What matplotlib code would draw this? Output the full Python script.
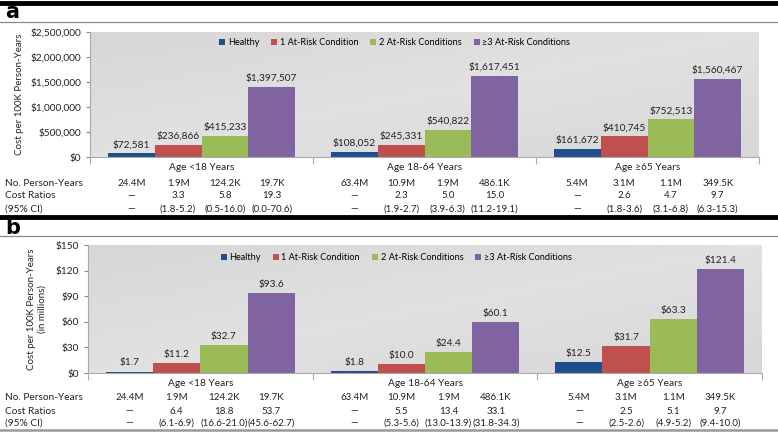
import matplotlib.pyplot as plt
import numpy as np
from matplotlib.lines import Line2D

plt.rcParams['font.family'] = ['Lato', 'DejaVu Sans']

# data
groups = ['Age <18 Years', 'Age 18-64 Years', 'Age \u226565 Years']
series = ['Healthy', '1 At-Risk Condition', '2 At-Risk Conditions', '\u22653 At-Risk Conditions']
colors = ['#1f4e8c', '#c0504d', '#9bbb59', '#8064a2']

cost_a_healthy = [72581, 108052, 161672]
cost_a_one = [236866, 245331, 410745]
cost_a_two = [415233, 540822, 752513]
cost_a_three = [1397507, 1617451, 1560467]

cost_b_healthy = [1.7, 1.8, 12.5]
cost_b_one = [11.2, 10.0, 31.7]
cost_b_two = [32.7, 24.4, 63.3]
cost_b_three = [93.6, 60.1, 121.4]

person_years = [['24.4M', '1.9M', '124.2K', '19.7K'],
                ['63.4M', '10.9M', '1.9M', '486.1K'],
                ['5.4M', '3.1M', '1.1M', '349.5K']]
ratios_a = [['\u2014', '3.3', '5.8', '19.3'],
            ['\u2014', '2.3', '5.0', '15.0'],
            ['\u2014', '2.6', '4.7', '9.7']]
ci_a = [['\u2014', '(1.8-5.2)', '(0.5-16.0)', '(0.0-70.6)'],
        ['\u2014', '(1.9-2.7)', '(3.9-6.3)', '(11.2-19.1)'],
        ['\u2014', '(1.8-3.6)', '(3.1-6.8)', '(6.3-15.3)']]
ratios_b = [['\u2014', '6.4', '18.8', '53.7'],
            ['\u2014', '5.5', '13.4', '33.1'],
            ['\u2014', '2.5', '5.1', '9.7']]
ci_b = [['\u2014', '(6.1-6.9)', '(16.6-21.0)', '(45.6-62.7)'],
        ['\u2014', '(5.3-5.6)', '(13.0-13.9)', '(31.8-34.3)'],
        ['\u2014', '(2.5-2.6)', '(4.9-5.2)', '(9.4-10.0)']]

W, H = 778, 432
FS = 7
fig = plt.figure(figsize=(W / 100, H / 100), dpi=100)

bw = 0.21
offsets = (np.arange(4) - 1.5) * bw
x = np.arange(len(groups))


def fy(py):
    return 1 - py / H


def draw_panel(rect, vals, ymax, ystep, fmt, tickfmt, ylabel, ylabel_x, rows, rows_y, leg_anchor):
    ax = fig.add_axes(rect)
    # shaded background
    grad = np.linspace(0, 1, 200)
    gx, gy = np.meshgrid(grad, grad)
    img = 0.88 - 0.04 * np.abs(gx - gy)
    ax.imshow(img, extent=[-0.5, 2.5, 0, ymax], aspect='auto', cmap='gray',
              vmin=0, vmax=1, zorder=0, origin='lower')
    for i, v in enumerate(vals):
        bars = ax.bar(x + offsets[i], v, bw, color=colors[i], label=series[i], zorder=2)
        for b, val in zip(bars, v):
            ax.annotate(fmt(val), (b.get_x() + b.get_width() / 2, val),
                        xytext=(0, 3), textcoords='offset points',
                        ha='center', va='bottom', fontsize=FS + 0.3, color='#222222')
    ax.set_xlim(-0.5, 2.5)
    ax.set_ylim(0, ymax)
    ax.set_yticks(np.arange(0, ymax + 1e-9, ystep))
    ax.yaxis.set_major_formatter(plt.FuncFormatter(lambda v, p: tickfmt(v)))
    ax.tick_params(axis='y', labelsize=FS + 0.3, length=3, color='#888888',
                   labelcolor='#222222')
    ax.set_xticks([-0.5, 0.5, 1.5, 2.5])
    ax.set_xticklabels([])
    ax.tick_params(axis='x', length=5, color='#aaaaaa')
    for s in ['top', 'right']:
        ax.spines[s].set_visible(False)
    for s in ['left', 'bottom']:
        ax.spines[s].set_color('#aaaaaa')
    # y label placed by hand, centred on the plot area
    y_mid = rect[1] + rect[3] / 2
    fig.text(ylabel_x / W, y_mid, ylabel, rotation=90, ha='center', va='center',
             multialignment='center', fontsize=FS, color='#222222', linespacing=1.3)
    ax.legend(loc='upper left', bbox_to_anchor=leg_anchor, ncol=4, frameon=False,
              fontsize=6.6, handlelength=0.65, handleheight=0.65, handletextpad=0.3,
              columnspacing=1.3, borderpad=0)
    trans = ax.get_xaxis_transform()
    for g in range(3):
        ax.text(x[g], -0.05, groups[g], transform=trans, ha='center', va='top',
                fontsize=FS + 0.3, color='#222222')
    # table rows
    labels = ['No. Person-Years', 'Cost Ratios', '(95% CI)']
    tr = ax.transData + fig.transFigure.inverted()
    for r, (lab, data) in enumerate(zip(labels, rows)):
        yy = fy(rows_y[r])
        fig.text(5 / W, yy, lab, ha='left', va='center', fontsize=FS + 0.3, color='#222222')
        for g in range(3):
            for k in range(4):
                xf = tr.transform((x[g] + offsets[k], 0))[0]
                fig.text(xf, yy, data[g][k], ha='center', va='center', fontsize=FS,
                         color='#222222')
    return ax


ax_a = draw_panel([90 / W, fy(157), 669 / W, 125 / H],
                  [cost_a_healthy, cost_a_one, cost_a_two, cost_a_three],
                  2500000, 500000, lambda v: '${:,.0f}'.format(v),
                  lambda v: '${:,.0f}'.format(v), 'Cost per 100K Person-Years', 20,
                  [person_years, ratios_a, ci_a], [183, 196, 209], (0.186, 0.985))

ax_b = draw_panel([88 / W, fy(373), 674 / W, 128 / H],
                  [cost_b_healthy, cost_b_one, cost_b_two, cost_b_three],
                  150, 30, lambda v: '${:.1f}'.format(v),
                  lambda v: '${:.0f}'.format(v), 'Cost per 100K Person-Years\n(in millions)', 37,
                  [person_years, ratios_b, ci_b], [398, 411, 423], (0.19, 0.975))

# panel letters and separator lines
fig.text(5 / W, fy(12), 'a', fontsize=15, fontweight='bold', va='center', ha='left',
         family='DejaVu Sans')
fig.text(5 / W, fy(228), 'b', fontsize=15, fontweight='bold', va='center', ha='left',
         family='DejaVu Sans')
fig.add_artist(Line2D([0, 1], [fy(2.5), fy(2.5)], color='black', lw=3.5))
fig.add_artist(Line2D([0, 1], [fy(216.5), fy(216.5)], color='black', lw=3.5))
fig.add_artist(Line2D([0, 1], [fy(22), fy(22)], color='#888888', lw=0.9))
fig.add_artist(Line2D([0, 1], [fy(236), fy(236)], color='#888888', lw=0.9))
fig.add_artist(Line2D([0, 1], [fy(429.5), fy(429.5)], color='#999999', lw=1.8))

fig.savefig('out.png', dpi=100)
